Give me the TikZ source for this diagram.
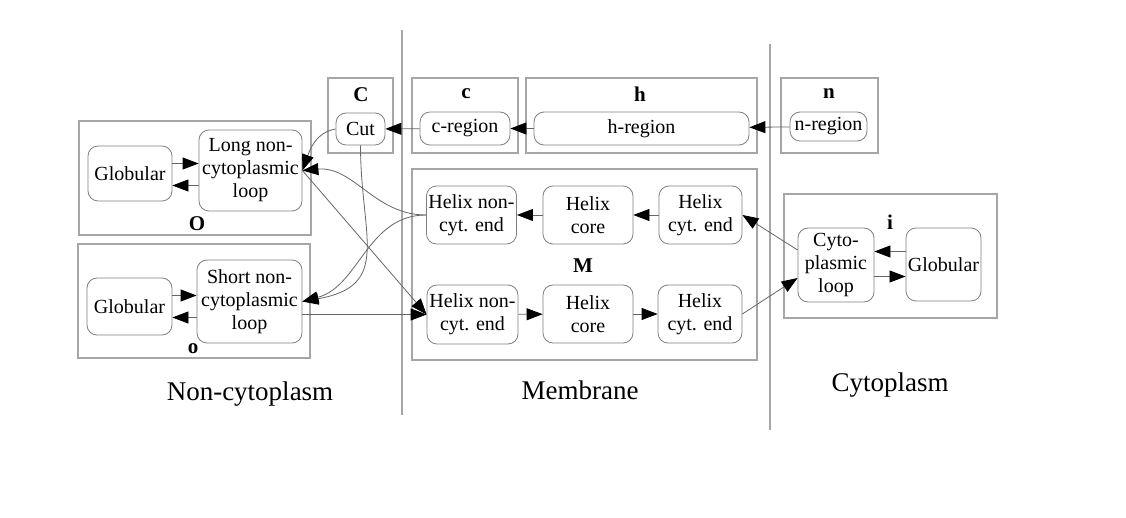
\documentclass[tikz,border=0pt]{standalone}
\usepackage{fontspec}
\setmainfont{Liberation Serif}
\usetikzlibrary{arrows.meta}

\begin{document}
\begin{tikzpicture}[x=0.5pt, y=-0.5pt,
state/.style={draw=gray, rounded corners=5pt, align=center, inner sep=1pt,
	font=\fontsize{10}{11.5}\selectfont},
region/.style={draw=gray!70, line width=0.6pt},
tag/.style={font=\fontsize{10.5}{12}\selectfont\bfseries},
side/.style={font=\fontsize{13.5}{16}\selectfont},
link/.style={draw=black!60, -{Triangle[length=8pt,width=6pt,black]}}]
\useasboundingbox (0,0) rectangle (1126,518);

% column borders
\draw[gray!70, line width=0.6pt] (402,30) -- (402,415);
\draw[gray!70, line width=0.6pt] (770,44) -- (770,430);

% region boxes
\draw[region] (79,121) rectangle (311,235);
\draw[region] (78,244) rectangle (310,358);
\draw[region] (328,78) rectangle (393,153);
\draw[region] (412,78) rectangle (518,153);
\draw[region] (526,78) rectangle (757,153);
\draw[region] (781,78) rectangle (878,153);
\draw[region] (412,169) rectangle (757,360);
\draw[region] (784,194) rectangle (997,318);

\node[tag] (tagO) at (197,224) {O};
\node[tag] (tago) at (193,349) {o};
\node[tag] (tagC) at (361,95) {C};
\node[tag] (tagc) at (466,94) {c};
\node[tag] (tagh) at (640,94) {h};
\node[tag] (tagn) at (829,94) {n};
\node[tag] (tagM) at (583,266) {M};
\node[tag] (tagi) at (890,222) {i};

% states
\node[state, minimum width=42pt, minimum height=27.5pt] (globO) at (130,173.5) {Globular};
\node[state, minimum width=51.5pt, minimum height=40.5pt] (longloop) at (250.5,170.5) {Long non-\\cytoplasmic\\loop};
\node[state, minimum width=42.5pt, minimum height=28.5pt] (globo) at (129.5,306.5) {Globular};
\node[state, minimum width=52.5pt, minimum height=41.5pt] (shortloop) at (249.5,301.5) {Short non-\\cytoplasmic\\loop};
\node[state, minimum width=24.5pt, minimum height=16pt] (cut) at (360.5,129) {Cut};
\node[state, minimum width=45pt, minimum height=16.5pt] (creg) at (465,128.5) {c-region};
\node[state, minimum width=107.5pt, minimum height=16.5pt] (hreg) at (641.5,128.5) {h-region};
\node[state, minimum width=38.5pt, minimum height=14.5pt] (nreg) at (828.5,126.5) {n-region};
\node[state, minimum width=44.5pt, minimum height=29pt] (hnc1) at (471.5,215) {Helix non-\\cyt. end};
\node[state, minimum width=45pt, minimum height=29pt] (core1) at (588,215) {Helix\\core};
\node[state, minimum width=41.5pt, minimum height=29pt] (hce1) at (700.5,215) {Helix\\cyt. end};
\node[state, minimum width=45.5pt, minimum height=29.5pt] (hnc2) at (472.5,314.5) {Helix non-\\cyt. end};
\node[state, minimum width=45pt, minimum height=29pt] (core2) at (588,314) {Helix\\core};
\node[state, minimum width=42pt, minimum height=29pt] (hce2) at (700,314) {Helix\\cyt. end};
\node[state, minimum width=38pt, minimum height=37pt] (cyto) at (836,265) {Cyto-\\plasmic\\loop};
\node[state, minimum width=37.5pt, minimum height=36.5pt] (globi) at (943.5,264.5) {Globular};

% column names
\node[side] (noncyt) at (250,394) {Non-cytoplasm};
\node[side] (membr) at (580,390) {Membrane};
\node[side] (cytopl) at (890,385) {Cytoplasm};

% transitions
\draw[link] ([yshift=5pt]globO.east) -- ([yshift=5pt]globO.east -| longloop.west);
\draw[link] ([yshift=-6pt]globO.east -| longloop.west) -- ([yshift=-6pt]globO.east);
\draw[link] ([yshift=5.5pt]globo.east) -- ([yshift=5.5pt]globo.east -| shortloop.west);
\draw[link] ([yshift=-5.5pt]globo.east -| shortloop.west) -- ([yshift=-5.5pt]globo.east);
\draw[link] ([yshift=6.5pt]globi.west) -- ([yshift=6.5pt]globi.west -| cyto.east);
\draw[link] ([yshift=-6pt]globi.west -| cyto.east) -- ([yshift=-6pt]globi.west);

\draw[link] (nreg) -- (hreg);
\draw[link] (hreg) -- (creg);
\draw[link] (creg) -- (cut);
\draw[link] (hce1) -- (core1);
\draw[link] (core1) -- (hnc1);
\draw[link] (hnc2) -- (core2);
\draw[link] (core2) -- (hce2);

\draw[link] (cut.west) to[out=190, in=70] (longloop.east);
\draw[link] (cut.south) to[out=-90, in=10, looseness=1.4] (shortloop.east);
\draw[link] (hnc1.west) to[out=180, in=5] (longloop.east);
\draw[link] (hnc1.west) to[out=180, in=15] (shortloop.east);
\draw[link] (longloop.east) -- (hnc2.west);
\draw[link] (shortloop.east |- hnc2.west) -- (hnc2.west);
\draw[link] (hce2.east) -- ([yshift=-6.5pt]cyto.west);
\draw[link] ([yshift=7.5pt]cyto.west) -- (hce1.east);
\end{tikzpicture}
\end{document}
